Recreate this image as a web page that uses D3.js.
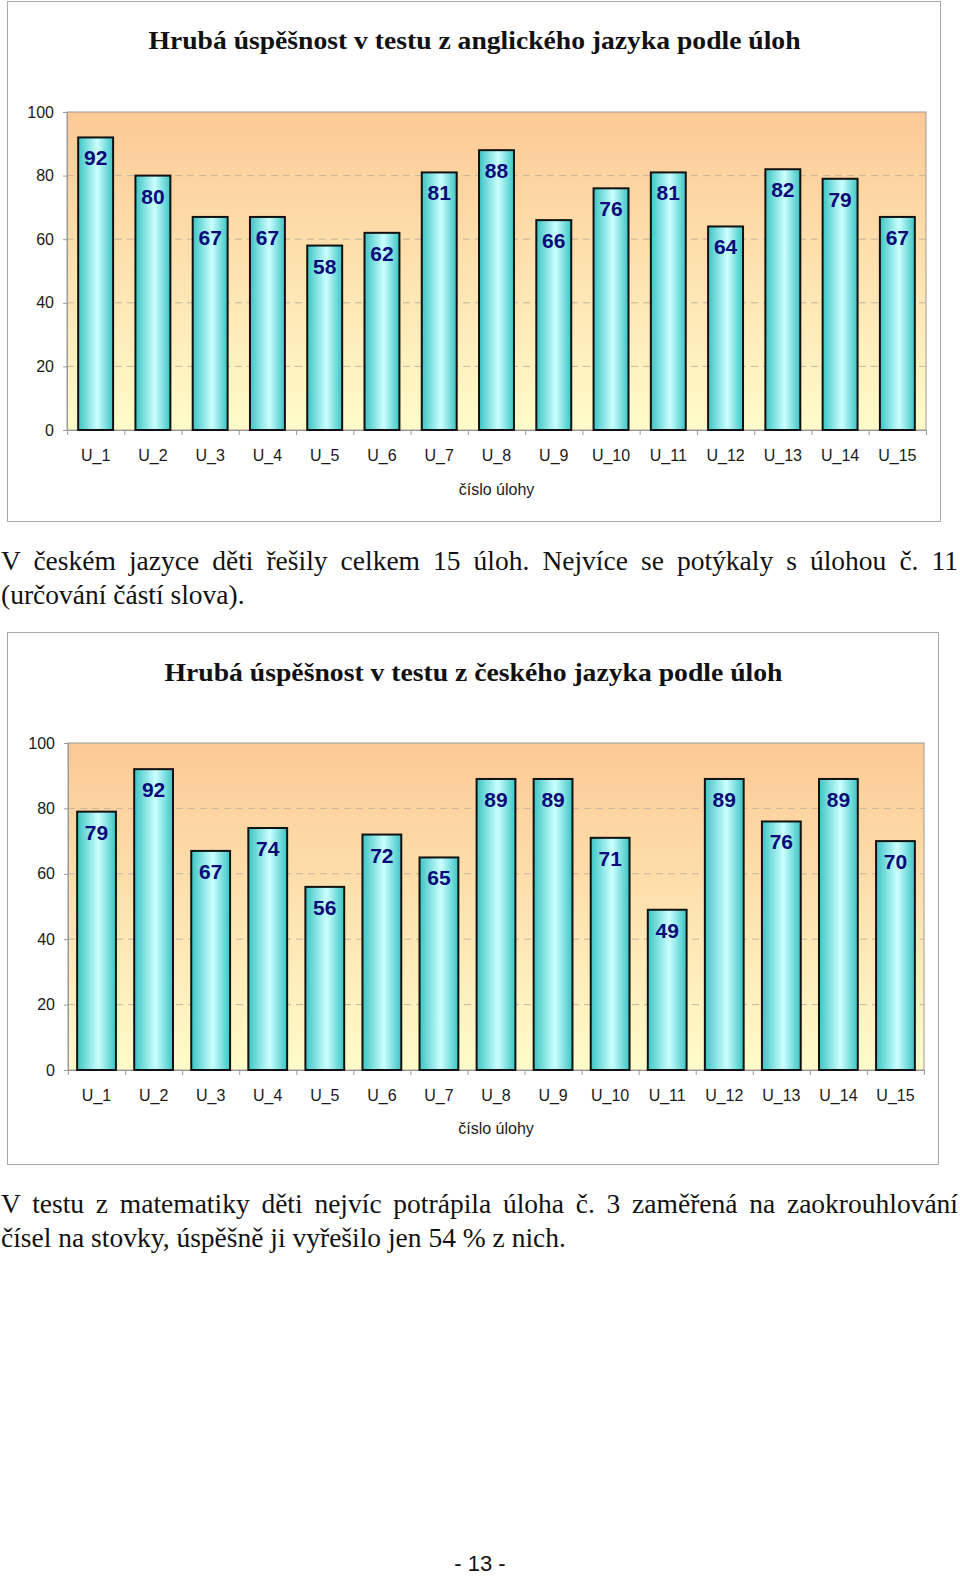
<!DOCTYPE html>
<html>
<head>
<meta charset="utf-8">
<script src="https://cdn.jsdelivr.net/npm/d3@7"></script>
<style>
  body { margin: 0; background: #fff; }
  #page { position: relative; width: 960px; height: 1578px; overflow: hidden; }
  #page svg { position: absolute; left: 0; top: 0; }
  .line {
    position: absolute; left: 1px; width: 957px;
    font-family: "Liberation Serif", serif; font-size: 27.5px; line-height: 30px;
    color: #111; white-space: nowrap;
  }
  .just { text-align: justify; text-align-last: justify; }
</style>
</head>
<body>
<div id="page"></div>
<script>
/* Two bar charts of test success per task, plus the page text */

// data
const categories = ['U_1', 'U_2', 'U_3', 'U_4', 'U_5', 'U_6', 'U_7', 'U_8',
  'U_9', 'U_10', 'U_11', 'U_12', 'U_13', 'U_14', 'U_15'];
const englishValues = [92, 80, 67, 67, 58, 62, 81, 88, 66, 76, 81, 64, 82, 79, 67];
const czechValues = [79, 92, 67, 74, 56, 72, 65, 89, 89, 71, 49, 89, 76, 89, 70];
const yTicks = [0, 20, 40, 60, 80, 100];
const gridTicks = [20, 40, 60, 80];

const titles = {
  english: 'Hrubá úspěšnost v testu z anglického jazyka podle úloh',
  czech: 'Hrubá úspěšnost v testu z českého jazyka podle úloh',
  axis: 'číslo úlohy'
};

const paragraphs = [
  { top: 546, lines: ['V českém jazyce děti řešily celkem 15 úloh. Nejvíce se potýkaly s\u00a0úlohou č. 11',
                      '(určování částí slova).'] },
  { top: 1189, lines: ['V testu z\u00a0matematiky děti nejvíc potrápila úloha č. 3 zaměřená na zaokrouhlování',
                       'čísel na stovky, úspěšně ji vyřešilo jen 54 % z nich.'] }
];

const config = {
  LINE_GAP: 34,
  LABEL_OFFSET: 28,
  SANS: '"Liberation Sans", Arial, sans-serif',
  SERIF: '"Liberation Serif", serif'
};

const page = d3.select('#page');
const svg = page.append('svg').attr('width', 960).attr('height', 1578);

// gradients
const defs = svg.append('defs');

const bgGrad = defs.append('linearGradient')
  .attr('id', 'plotBg').attr('x1', 0).attr('y1', 0).attr('x2', 0).attr('y2', 1);
bgGrad.append('stop').attr('offset', '0%').attr('stop-color', '#fcc995');
bgGrad.append('stop').attr('offset', '100%').attr('stop-color', '#fffcca');

const barGrad = defs.append('linearGradient')
  .attr('id', 'barFill').attr('x1', 0).attr('y1', 0).attr('x2', 1).attr('y2', 0);
barGrad.append('stop').attr('offset', '0%').attr('stop-color', '#3cc4c4');
barGrad.append('stop').attr('offset', '55%').attr('stop-color', '#ccffff');
barGrad.append('stop').attr('offset', '100%').attr('stop-color', '#3cc4c4');

/* One chart in its own frame */
const drawChart = function (values, title, c) {

  const g = svg.append('g');

  g.append('rect')
    .attr('x', c.box[0] + 0.5).attr('y', c.box[1] + 0.5)
    .attr('width', c.box[2]).attr('height', c.box[3])
    .attr('fill', '#fff').attr('stroke', '#a8a8a8');

  g.append('text')
    .attr('x', c.box[0] + c.box[2] / 2 + 1)
    .attr('y', c.titleY)
    .attr('text-anchor', 'middle')
    .attr('font-family', config.SERIF)
    .attr('font-weight', 'bold')
    .attr('font-size', 26)
    .attr('textLength', c.titleW)
    .attr('lengthAdjust', 'spacingAndGlyphs')
    .attr('fill', '#111')
    .text(title);

  const x = d3.scaleBand()
    .domain(categories)
    .range([c.x0, c.x1])
    .paddingInner(c.pad)
    .paddingOuter(c.pad / 2);

  const y = d3.scaleLinear().domain([0, 100]).range([c.y1, c.y0]);

  // plot area
  g.append('rect')
    .attr('x', c.x0).attr('y', c.y0)
    .attr('width', c.x1 - c.x0).attr('height', c.y1 - c.y0)
    .attr('fill', 'url(#plotBg)')
    .attr('stroke', '#9a9a9a');

  g.selectAll('.grid')
    .data(gridTicks)
    .enter().append('line')
    .attr('class', 'grid')
    .attr('x1', c.x0).attr('x2', c.x1)
    .attr('y1', d => y(d)).attr('y2', d => y(d))
    .attr('stroke', '#c4b4a0')
    .attr('stroke-dasharray', '7,5');

  // y axis
  const yAxis = g.append('g')
    .attr('transform', 'translate(' + c.x0 + ',0)')
    .call(d3.axisLeft(y).tickValues(yTicks).tickSize(4).tickPadding(9));

  // x axis: labels and boundary ticks
  const xAxis = g.append('g')
    .attr('transform', 'translate(0,' + c.y1 + ')')
    .call(d3.axisBottom(x).tickSize(0).tickPadding(20));

  const edges = d3.scaleLinear().domain([0, categories.length]).range([c.x0, c.x1]);
  const xTicks = g.append('g')
    .attr('transform', 'translate(0,' + c.y1 + ')')
    .call(d3.axisBottom(edges).tickValues(d3.range(categories.length + 1)).tickSize(5).tickFormat(''));

  [yAxis, xAxis, xTicks].forEach(a => {
    a.select('.domain').attr('stroke', '#9a9a9a');
    a.selectAll('.tick line').attr('stroke', '#9a9a9a');
    a.selectAll('text')
      .attr('font-family', config.SANS)
      .attr('font-size', 16)
      .attr('fill', '#1a1a1a');
  });

  g.append('text')
    .attr('x', (c.x0 + c.x1) / 2)
    .attr('y', c.axisY)
    .attr('text-anchor', 'middle')
    .attr('font-family', config.SANS)
    .attr('font-size', 16)
    .attr('fill', '#1a1a1a')
    .text(titles.axis);

  // bars
  g.selectAll('.bar')
    .data(values)
    .enter().append('rect')
    .attr('class', 'bar')
    .attr('x', (v, i) => x(categories[i]))
    .attr('y', v => y(v))
    .attr('width', x.bandwidth())
    .attr('height', v => y(0) - y(v))
    .attr('fill', 'url(#barFill)')
    .attr('stroke', '#111')
    .attr('stroke-width', 2);

  g.selectAll('.val')
    .data(values)
    .enter().append('text')
    .attr('class', 'val')
    .attr('x', (v, i) => x(categories[i]) + x.bandwidth() / 2)
    .attr('y', v => y(v) + config.LABEL_OFFSET)
    .attr('text-anchor', 'middle')
    .attr('font-family', config.SANS)
    .attr('font-weight', 'bold')
    .attr('font-size', 21)
    .attr('fill', '#0a0a78')
    .text(v => v);

};

drawChart(englishValues, titles.english, {
  box: [7, 1, 933, 520], titleY: 49, titleW: 652,
  x0: 67, x1: 926, y0: 112, y1: 430, pad: 0.39, axisY: 495
});

drawChart(czechValues, titles.czech, {
  box: [7, 632, 931, 532], titleY: 681, titleW: 618,
  x0: 68, x1: 924, y0: 743, y1: 1070, pad: 0.32, axisY: 1134
});

// paragraphs
paragraphs.forEach(p => {
  p.lines.forEach((t, i) => {
    page.append('div')
      .attr('class', 'line' + (i < p.lines.length - 1 ? ' just' : ''))
      .style('top', (p.top + i * config.LINE_GAP) + 'px')
      .text(t);
  });
});

// page number
svg.append('text')
  .attr('x', 480).attr('y', 1571)
  .attr('text-anchor', 'middle')
  .attr('font-family', config.SANS)
  .attr('font-size', 22)
  .attr('fill', '#111')
  .text('- 13 -');
</script>
</body>
</html>
